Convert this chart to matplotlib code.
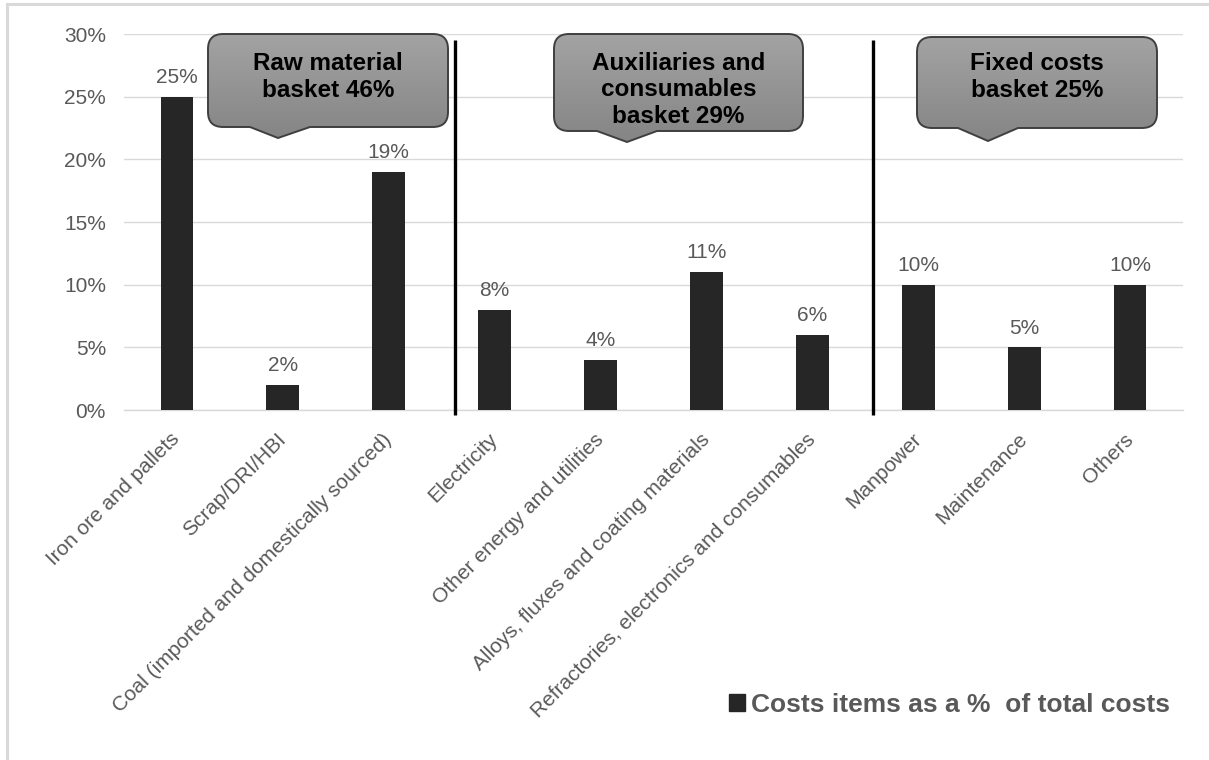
import numpy as np
import matplotlib
matplotlib.use("Agg")
import matplotlib.pyplot as plt
from matplotlib.path import Path
from matplotlib.patches import PathPatch, Patch
from matplotlib.colors import LinearSegmentedColormap
from matplotlib.lines import Line2D

# ---------------- data ----------------
categories = [
    "Iron ore and pallets",
    "Scrap/DRI/HBI",
    "Coal (imported and domestically sourced)",
    "Electricity",
    "Other energy and utilities",
    "Alloys, fluxes and coating materials",
    "Refractories, electronics and consumables",
    "Manpower",
    "Maintenance",
    "Others",
]
values = [25, 2, 19, 8, 4, 11, 6, 10, 5, 10]
yticks = [0, 5, 10, 15, 20, 25, 30]
ytick_labels = ["0%", "5%", "10%", "15%", "20%", "25%", "30%"]
series_name = "Costs items as a %  of total costs"
callout_texts = ["Raw material\nbasket 46%",
                 "Auxiliaries and\nconsumables\nbasket 29%",
                 "Fixed costs\nbasket 25%"]

# ---------------- style ----------------
plt.rcParams["font.family"] = ["Liberation Sans", "DejaVu Sans"]
GRAY_TXT = "#595959"
BAR = "#262626"
GRID = "#d9d9d9"

W, H = 1209, 760
fig = plt.figure(figsize=(W / 100, H / 100), dpi=100)
fig.patch.set_facecolor("white")

# outer frame (light gray, top & left visible)
fig.add_artist(Line2D([7 / W, 1.0], [1 - 4 / H, 1 - 4 / H], color=GRID, lw=2.2))
fig.add_artist(Line2D([7 / W, 7 / W], [0.0, 1 - 4 / H], color=GRID, lw=2.2))

# main axes
left_px, right_px, top_px, bottom_px = 124, 1183, 34, 410
ax = fig.add_axes([left_px / W, 1 - bottom_px / H,
                   (right_px - left_px) / W, (bottom_px - top_px) / H])

x = np.arange(len(categories))
bars = ax.bar(x, values, width=0.31, color=BAR, zorder=3)
ax.set_xlim(-0.5, len(categories) - 0.5)
ax.set_ylim(0, 30)
ax.set_yticks(yticks)
ax.set_yticklabels(ytick_labels)
ax.yaxis.grid(True, color=GRID, lw=1.0, zorder=0)
ax.set_axisbelow(True)
for s in ["top", "right", "left"]:
    ax.spines[s].set_visible(False)
ax.spines["bottom"].set_color(GRID)
ax.spines["bottom"].set_linewidth(1.0)
ax.tick_params(axis="y", length=0, pad=13, labelsize=15, labelcolor=GRAY_TXT)
ax.tick_params(axis="x", length=0, pad=19, labelsize=15, labelcolor=GRAY_TXT)
ax.set_xticks(x)
ax.set_xticklabels(categories, rotation=45, ha="right", va="center",
                   rotation_mode="anchor")

ax.bar_label(bars, labels=[f"{v}%" for v in values], padding=7,
             fontsize=15, color=GRAY_TXT)

# group separators (data coordinates)
for xs in (2.63, 6.57):
    ax.plot([xs, xs], [-0.4, 29.5], color="black", lw=2.4, clip_on=False,
            zorder=4, solid_capstyle="butt")

# legend
leg = fig.legend(handles=[Patch(facecolor=BAR, edgecolor=BAR)],
                 labels=[series_name], loc="center left",
                 bbox_to_anchor=(729 / W, 1 - 705 / H), frameon=False,
                 handlelength=0.6, handleheight=0.6, handletextpad=0.25,
                 borderpad=0, borderaxespad=0,
                 prop={"size": 19, "weight": "bold"})
for t in leg.get_texts():
    t.set_color(GRAY_TXT)

# ---------------- callouts (overlay in pixel coordinates) ----------------
ov = fig.add_axes([0, 0, 1, 1], zorder=10)
ov.set_xlim(0, W)
ov.set_ylim(H, 0)
ov.axis("off")
ov.patch.set_alpha(0)

cmap = LinearSegmentedColormap.from_list("g", ["#a3a3a3", "#858585"])
boxes = [  # x0, x1, y0, y1, pointer-left, pointer-right, tip-x, tip-y
    (208, 448, 34, 127, 250, 310, 278, 138),
    (554, 803, 34, 131, 597, 657, 627, 142),
    (917, 1157, 37, 128, 958, 1018, 988, 141),
]
text_cy = [77, 90, 77]
r = 15
for (x0, x1, y0, y1, pl, pr, tx, ty), txt, cy in zip(boxes, callout_texts, text_cy):
    verts = [
        (x0 + r, y0), (x1 - r, y0),
        (x1, y0), (x1, y0 + r),
        (x1, y1 - r),
        (x1, y1), (x1 - r, y1),
        (pr, y1), (tx, ty), (pl, y1),
        (x0 + r, y1),
        (x0, y1), (x0, y1 - r),
        (x0, y0 + r),
        (x0, y0), (x0 + r, y0),
        (x0 + r, y0),
    ]
    codes = [Path.MOVETO, Path.LINETO,
             Path.CURVE3, Path.CURVE3,
             Path.LINETO,
             Path.CURVE3, Path.CURVE3,
             Path.LINETO, Path.LINETO, Path.LINETO,
             Path.LINETO,
             Path.CURVE3, Path.CURVE3,
             Path.LINETO,
             Path.CURVE3, Path.CURVE3,
             Path.CLOSEPOLY]
    path = Path(verts, codes)
    fill = PathPatch(path, facecolor="none", edgecolor="none")
    ov.add_patch(fill)
    grad = np.linspace(0, 1, 100).reshape(-1, 1)
    im = ov.imshow(grad, cmap=cmap, aspect="auto", origin="upper",
                   extent=(x0, x1, ty, y0), zorder=1)
    im.set_clip_path(fill)
    edge = PathPatch(path, facecolor="none", edgecolor="#3f3f3f", lw=1.4,
                     zorder=2)
    ov.add_patch(edge)
    ov.text((x0 + x1) / 2, cy, txt, ha="center", va="center",
            fontsize=17.5, fontweight="bold", color="black",
            linespacing=1.2, zorder=3)

ov.set_xlim(0, W)
ov.set_ylim(H, 0)

fig.savefig("out.png", dpi=100)
